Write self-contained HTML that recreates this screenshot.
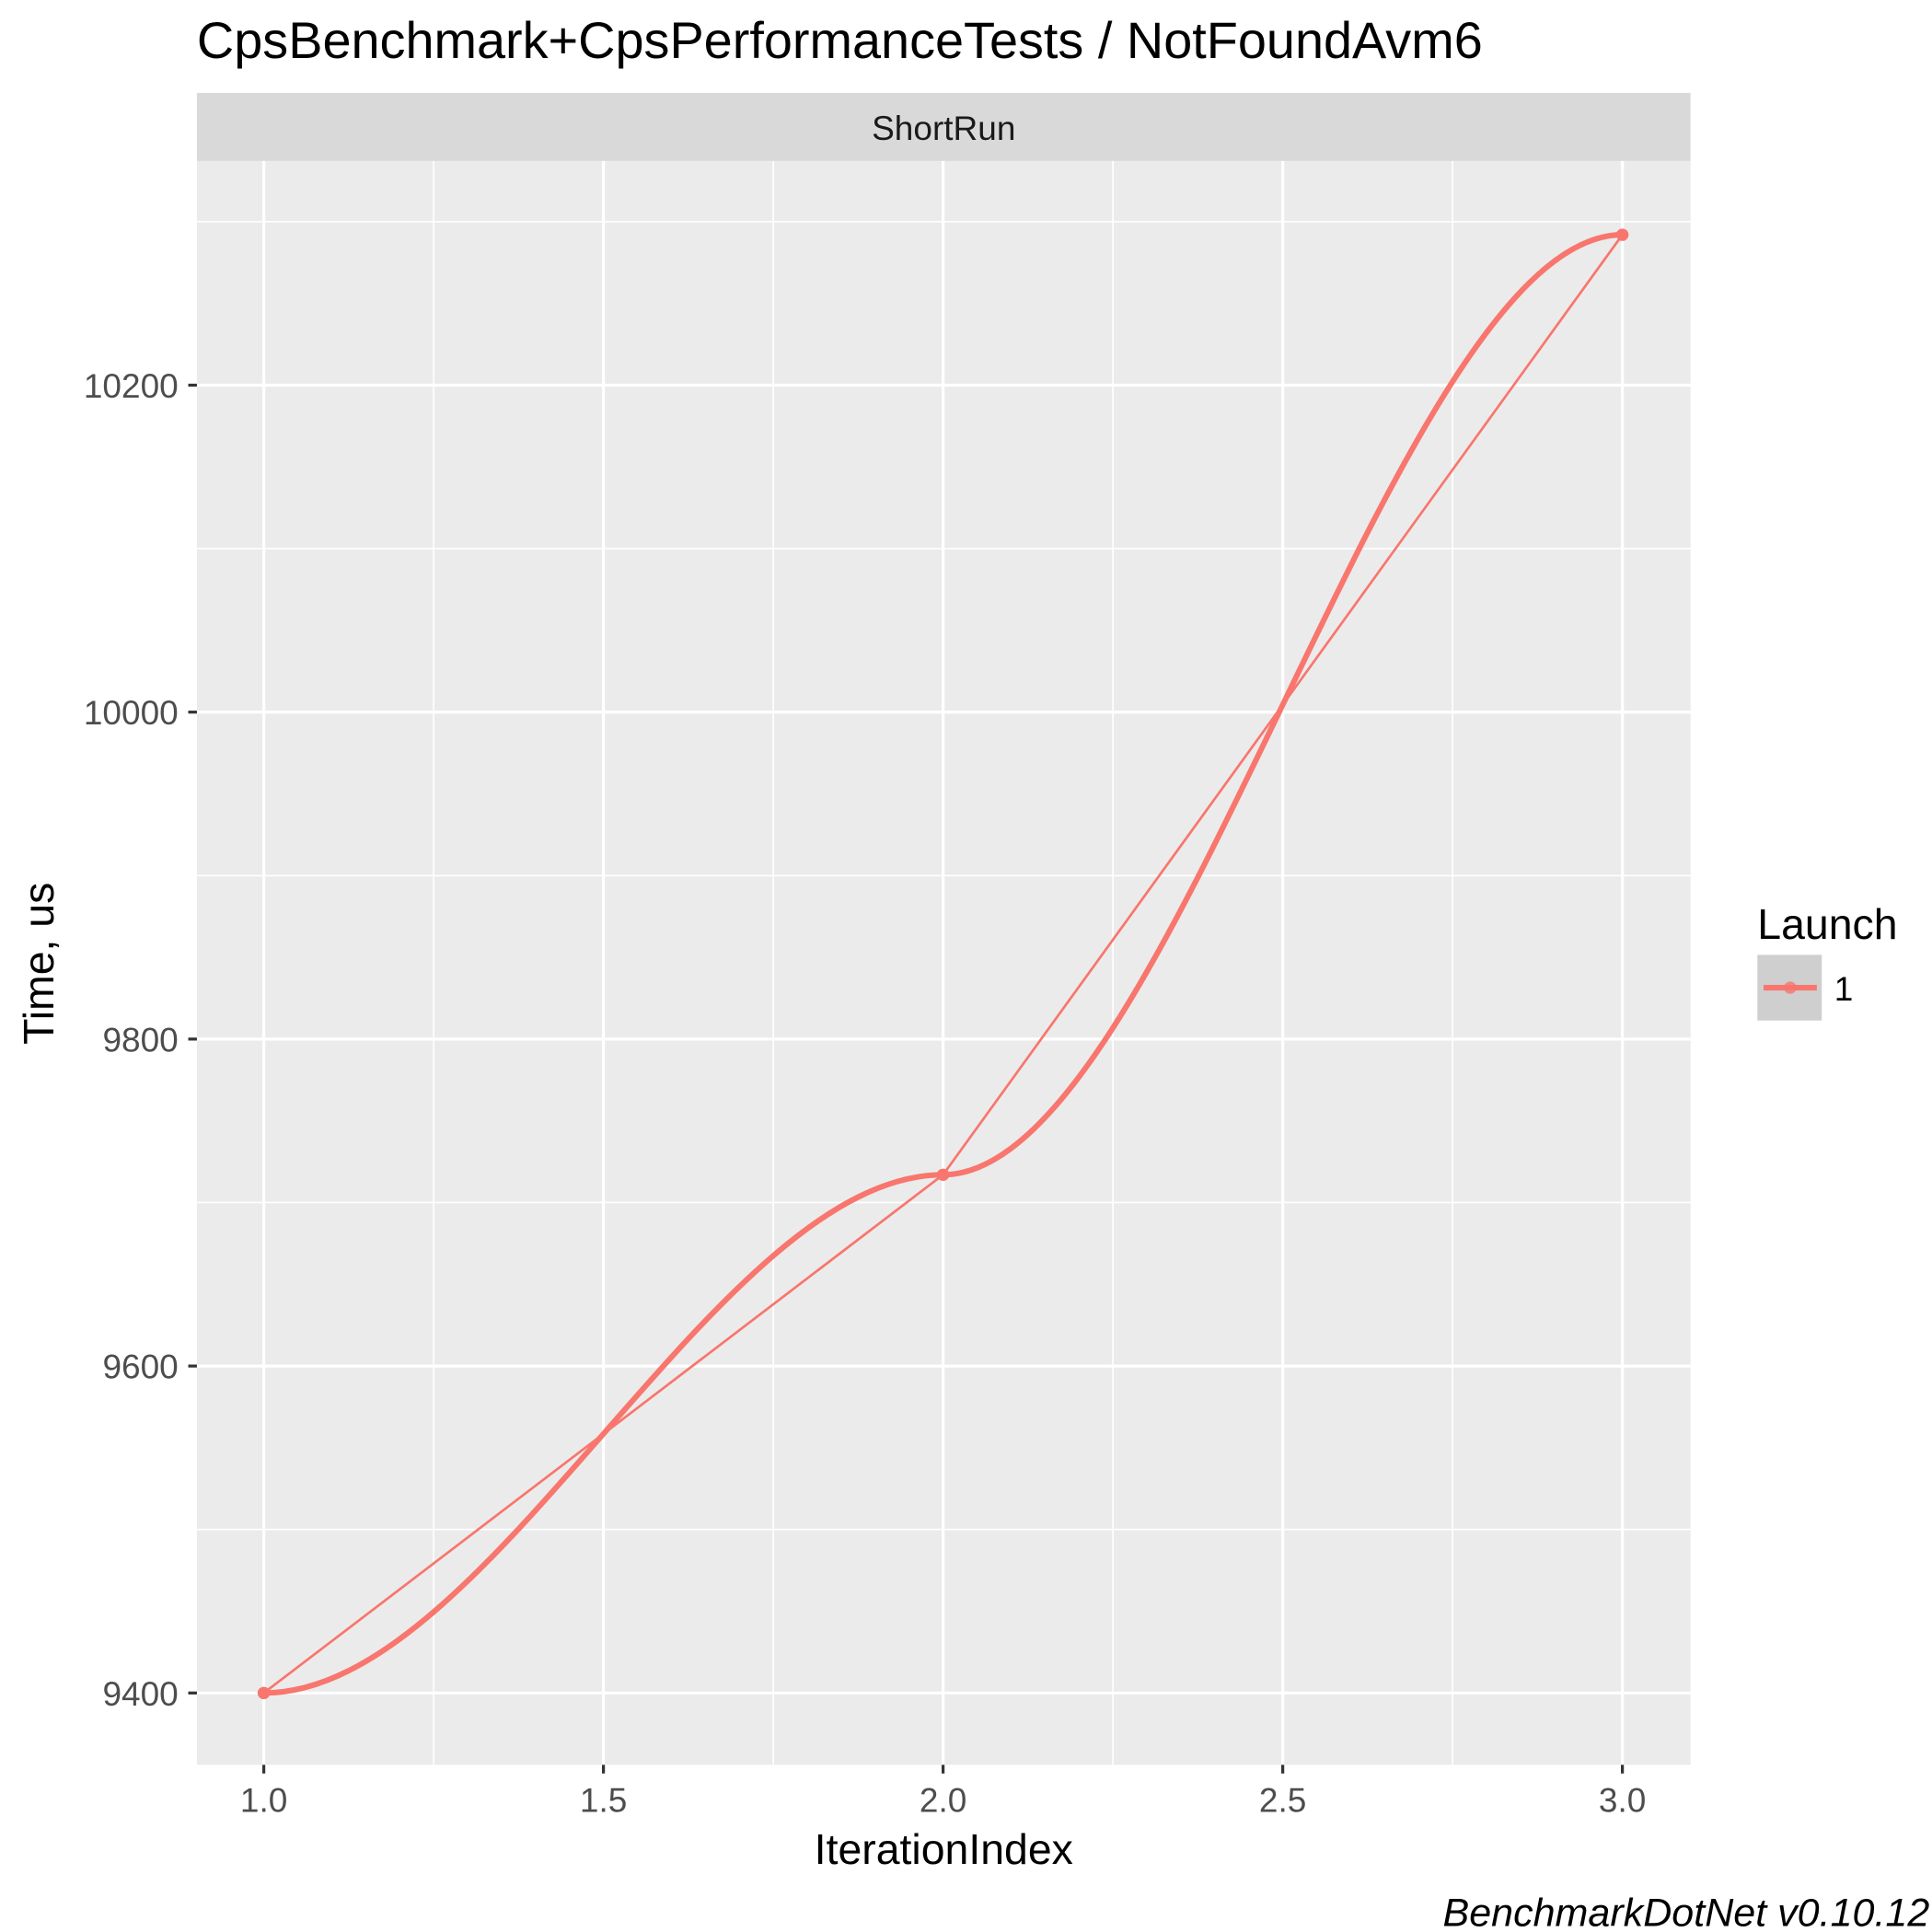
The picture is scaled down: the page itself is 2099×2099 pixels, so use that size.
<!DOCTYPE html>
<html><head><meta charset="utf-8">
<style>
html,body{margin:0;padding:0;background:#fff;}
svg{display:block;font-family:"Liberation Sans",Arial,sans-serif;}
</style></head>
<body>
<svg id="chart" width="2099" height="2099" viewBox="0 0 1560 1560" xmlns="http://www.w3.org/2000/svg">
<rect width="1560" height="1560" fill="#fff"/>
<text x="159" y="47" font-size="41.5" fill="#000">CpsBenchmark+CpsPerformanceTests / NotFoundAvm6</text>
<rect x="159" y="75" width="1206" height="55" fill="#d9d9d9"/>
<text x="762" y="113" font-size="27.5" fill="#1a1a1a" text-anchor="middle">ShortRun</text>
<rect x="159" y="130" width="1206" height="1295" fill="#ebebeb"/>
<g id="grid"></g>
<g id="series"></g>
<g id="axes"></g>
<text x="762" y="1505" font-size="34.5" fill="#000" text-anchor="middle">IterationIndex</text>
<text transform="translate(43,778) rotate(-90)" font-size="34.5" fill="#000" text-anchor="middle">Time, us</text>
<g>
<text x="1419" y="758" font-size="34.5" fill="#000">Launch</text>
<rect x="1419" y="771" width="52" height="53" fill="#cfcfcf"/>
<line x1="1424" y1="797.5" x2="1467" y2="797.5" stroke="#f8766d" stroke-width="4.5"/>
<circle cx="1445.5" cy="797.5" r="5" fill="#f8766d" opacity="0.8"/>
<text x="1481" y="808" font-size="27.5" fill="#000">1</text>
</g>
<text x="1558" y="1555" font-size="32" font-style="italic" fill="#000" text-anchor="end">BenchmarkDotNet v0.10.12</text>
</svg>
<script>
const iterations = [1, 2, 3];
const times = [9400, 9717, 10292];
const xTicks = [1.0, 1.5, 2.0, 2.5, 3.0];
const xTickLabels = ["1.0", "1.5", "2.0", "2.5", "3.0"];
const yTicks = [9400, 9600, 9800, 10000, 10200];
const yTickLabels = ["9400", "9600", "9800", "10000", "10200"];
const xMinor = [1.25, 1.75, 2.25, 2.75];
const yMinor = [9500, 9700, 9900, 10100, 10300];

const NS = "http://www.w3.org/2000/svg";
const px = v => 213 + (v - 1) * 548.5;
const py = v => 1367 - (v - 9400) * 1.32;
function mk(tag, attrs, parent) {
  const e = document.createElementNS(NS, tag);
  for (const k in attrs) e.setAttribute(k, attrs[k]);
  parent.appendChild(e);
  return e;
}
const grid = document.getElementById('grid');
const axes = document.getElementById('axes');
const series = document.getElementById('series');
xMinor.forEach(v => {
  const l = mk('line', {x1: px(v), x2: px(v), y1: 130, y2: 1425, stroke: '#fff', 'stroke-width': 1.2}, grid);
  
  
});
yMinor.forEach(v => {
  const l = mk('line', {x1: 159, x2: 1365, y1: py(v), y2: py(v), stroke: '#fff', 'stroke-width': 1.2}, grid);
  
  
});
xTicks.forEach((v, i) => {
  const l = mk('line', {x1: px(v), x2: px(v), y1: 130, y2: 1425, stroke: '#fff', 'stroke-width': 2.4}, grid);
  
  
  const t = mk('line', {x1: px(v), x2: px(v), y1: 1425, y2: 1432, stroke: '#333', 'stroke-width': 2.4}, axes);
  
  
  const tx = mk('text', {x: px(v), y: 1463, 'font-size': 27.5, fill: '#4d4d4d', 'text-anchor': 'middle'}, axes);
  tx.textContent = xTickLabels[i];
  
  
});
yTicks.forEach((v, i) => {
  const l = mk('line', {x1: 159, x2: 1365, y1: py(v), y2: py(v), stroke: '#fff', 'stroke-width': 2.4}, grid);
  
  
  const t = mk('line', {x1: 152, x2: 159, y1: py(v), y2: py(v), stroke: '#333', 'stroke-width': 2.4}, axes);
  
  
  const tx = mk('text', {x: 144, y: py(v) + 10, 'font-size': 27.5, fill: '#4d4d4d', 'text-anchor': 'end'}, axes);
  tx.textContent = yTickLabels[i];
  
  
});
let d = 'M' + px(iterations[0]) + ',' + py(times[0]);
for (let i = 1; i < iterations.length; i++) {
  const x0 = px(iterations[i-1]), y0 = py(times[i-1]), x1 = px(iterations[i]), y1 = py(times[i]);
  const dx = (x1 - x0) / 3;
  d += ' C' + (x0 + dx) + ',' + y0 + ' ' + (x1 - dx) + ',' + y1 + ' ' + x1 + ',' + y1;
}
const smooth = mk('path', {d: d, fill: 'none', stroke: '#f8766d', 'stroke-width': 4.5, 'stroke-linecap': 'round'}, series);


const pl = mk('polyline', {points: iterations.map((v, i) => px(v) + ',' + py(times[i])).join(' '), fill: 'none', stroke: '#f8766d', 'stroke-width': 2}, series);


iterations.forEach((v, i) => {
  const c = mk('circle', {cx: px(v), cy: py(times[i]), r: 5, fill: '#f8766d'}, series);
  
  
});
</script>
</body></html>
